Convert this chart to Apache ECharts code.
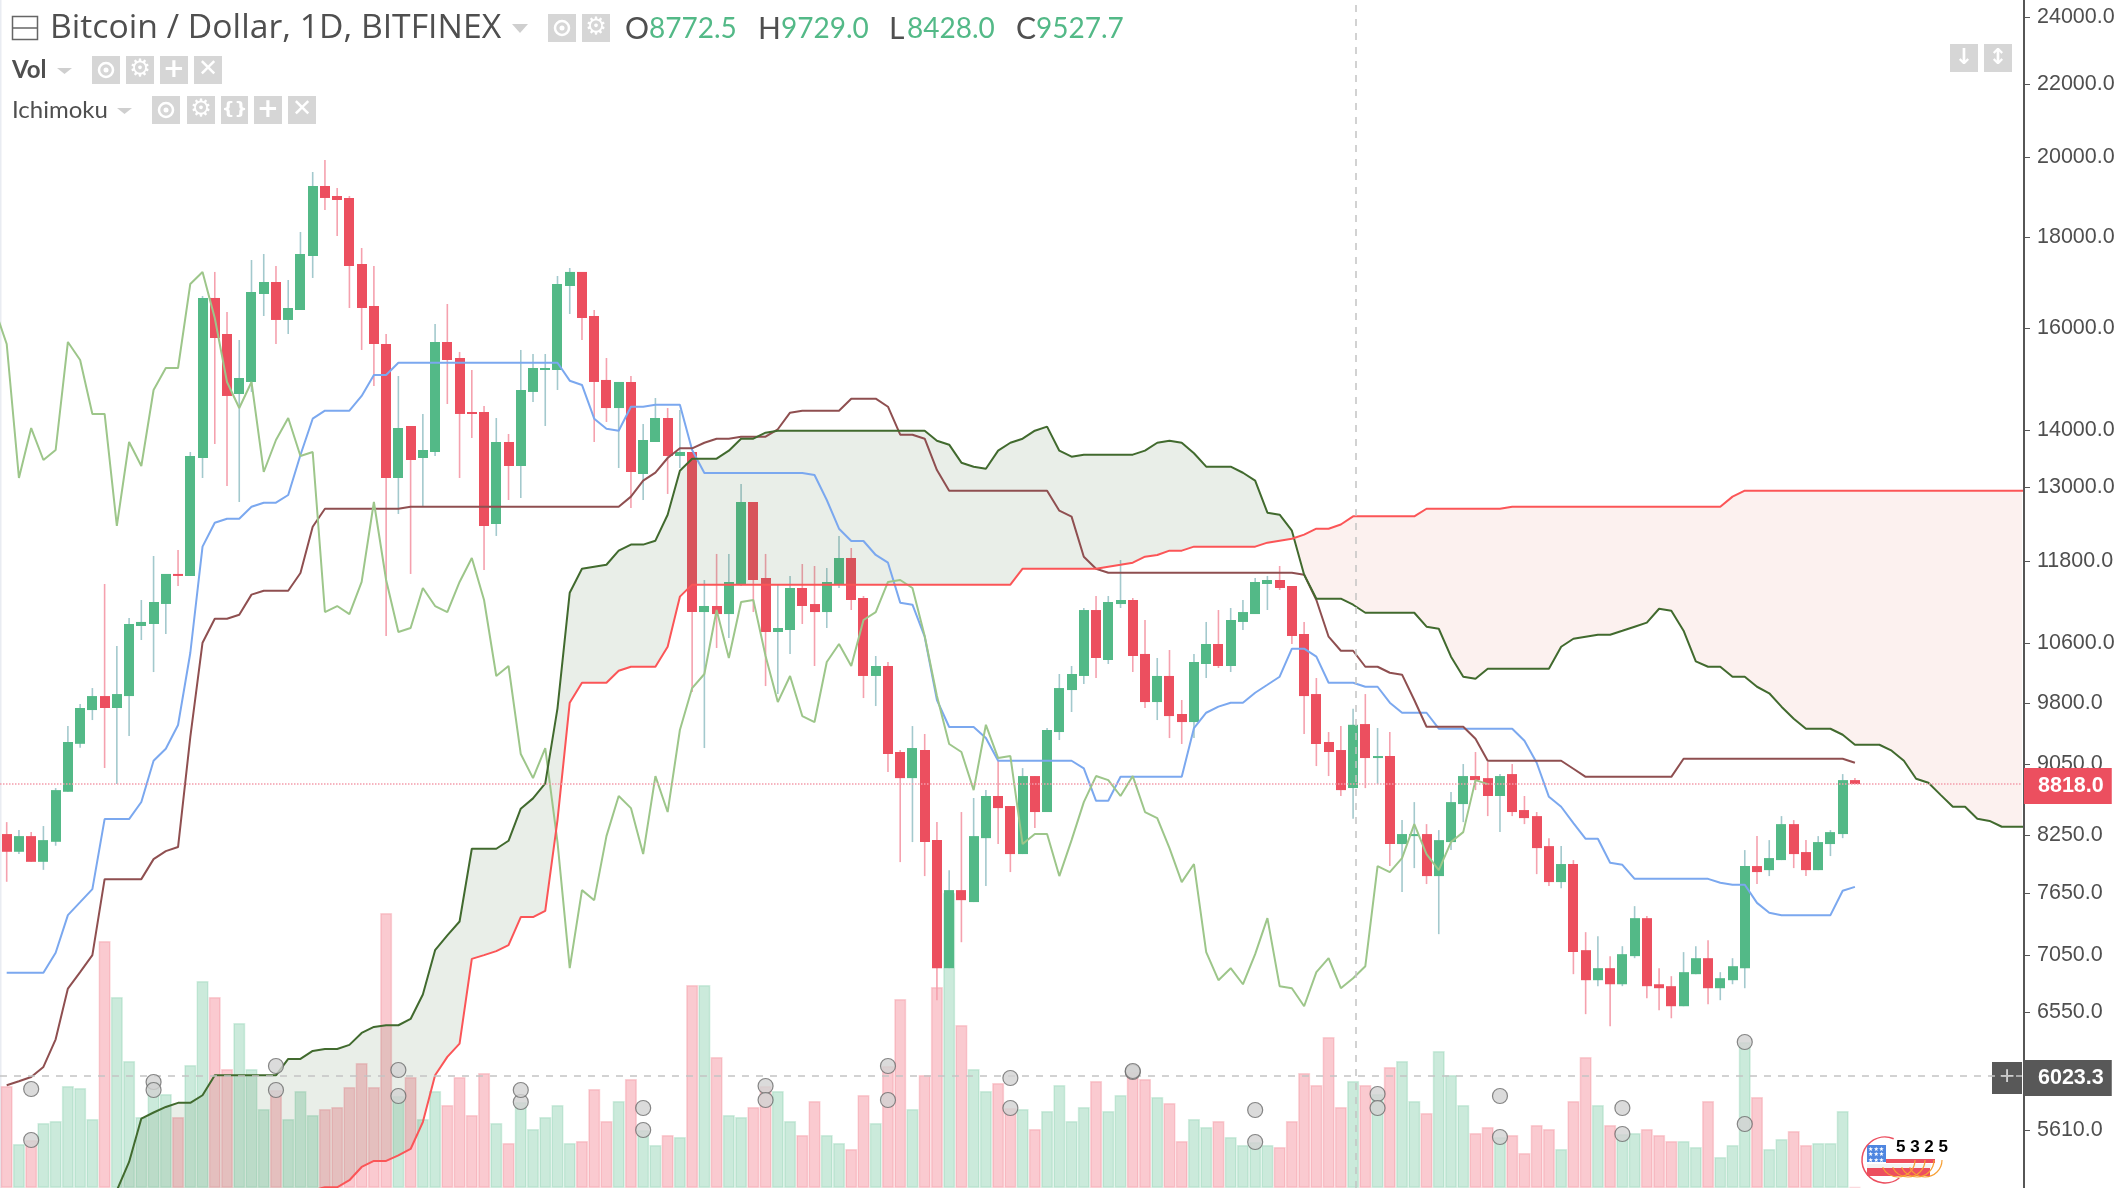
<!DOCTYPE html>
<html>
<head>
<meta charset="utf-8">
<title>Bitcoin / Dollar, 1D, BITFINEX</title>
<style>
  html, body { margin: 0; padding: 0; background: #fff; }
  #main { width: 2124px; height: 1188px; }
</style>
<script src="https://cdn.jsdelivr.net/npm/echarts@6/dist/echarts.min.js"></script>
</head>
<body>
<div id="main"></div>
<script>
// daily candles, one row per bar: open, close, low, high
var ohlc = [
  [8261,8072,7762,8391],[8072,8239,8048,8304],[8239,7967,7967,8282],[7967,8196,7884,8348],[8178,8749,8136,8772],
  [8730,9316,8730,9513],[9294,9739,9247,9790],[9713,9892,9587,9996],[9892,9739,9005,11451],[9739,9918,8818,10560],
  [9892,10868,9389,10954],[10840,10897,10643,11214],[10868,11185,10207,11877],[11156,11602,10727,11602],[11602,11572,11421,11971],
  [11572,13534,11572,13605],[13498,16635,13150,16678],[16635,15788,13747,17210],[15871,14637,13014,16334],[14675,14985,12745,15747],
  [14907,16765,14714,17480],[16721,16986,16248,17618],[16986,16164,15665,17344],[16164,16419,15871,17030],[16376,17618,16376,18132],
  [17572,19254,17075,19609],[19254,18955,18660,19918],[19004,18905,18037,19203],[18955,17344,16419,19004],[17389,16419,15543,17756],
  [16462,15665,14829,17344],[15665,13150,10699,15871],[13150,14037,12547,15024],[14074,13463,11602,14074],[13498,13640,12679,14297],
  [13605,15706,13534,16080],[15706,15341,14484,16505],[15381,14297,13150,15503],[14334,14297,13855,15142],[14334,12352,11662,14446],
  [12384,13783,12192,14222],[13783,13358,12778,13928],[13358,14752,12811,15543],[14714,15181,14522,15461],[15142,15181,14074,15461],
  [15142,16942,14752,17119],[16897,17210,16291,17299],[17210,16206,15747,17210],[16248,14907,13783,16376],[14946,14408,14148,15381],
  [14408,14907,13323,14907],[14907,13254,12645,15024],[13219,13819,12778,14111],[13783,14222,13783,14598],[14222,13534,12879,14408],
  [13534,13605,13323,14371],[13605,11039,9944,13605],[11039,11126,9243,11511],[11126,11010,10533,11909],[11010,11481,10671,11909],
  [11451,12745,11421,13048],[12745,11511,11039,12745],[11541,10755,10022,11909],[10755,10811,9918,11451],[10783,11391,10451,11572],
  [11391,11126,10868,11754],[11155,11039,10288,11723],[11039,11481,10811,11692],[11451,11846,11391,12192],[11846,11214,11068,12002],
  [11243,10155,9866,11273],[10155,10288,9764,10423],[10288,9171,8957,10342],[9195,8887,7964,9219],[8887,9243,8175,9512],
  [9219,8175,7820,9414],[8196,6934,6650,8391],[6934,7678,6934,7881],[7678,7578,7173,8502],[7559,8239,7559,8659],
  [8217,8682,7719,8749],[8682,8546,8154,9099],[8569,8048,7861,8569],[8048,8911,8048,9004],[8911,8502,8326,8911],
  [8502,9463,8502,9488],[9438,9996,9340,10181],[9970,10181,9688,10288],[10155,11068,10048,11097],[11068,10396,10128,11273],
  [10369,11185,10315,11273],[11155,11214,11097,11815],[11214,10423,10208,11243],[10451,9815,9738,10925],[9815,10155,9587,10396],
  [10155,9637,9364,10505],[9663,9562,9292,9841],[9562,10342,9364,10451],[10315,10588,10128,10897],[10588,10288,10261,11068],
  [10288,10925,10208,11097],[10897,11039,10783,11214],[11010,11481,11010,11541],[11451,11511,11068,11572],[11511,11391,11361,11723],
  [11421,10699,10588,11421],[10727,9892,9414,10897],[9918,9292,9028,10128],[9316,9195,8911,9438],[9219,8749,8682,9512],
  [8772.5,9527.7,8428,9729],[9537,9123,8772,9918],[9123,9147,8818,9488],[9147,8154,7923,9438],[8154,8261,7658,8413],
  [8239,8261,7902,8613],[8261,7820,7739,8369],[7820,8196,7249,8304],[8175,8613,8090,8726],[8591,8911,8391,9052],
  [8911,8864,8749,9195],[8887,8682,8457,9075],[8682,8911,8282,8934],[8934,8502,8457,9052],[8524,8435,8369,8682],
  [8457,8111,7840,8502],[8132,7759,7719,8217],[7759,7944,7698,8132],[7944,7081,6880,7985],[7099,6826,6530,7268],
  [6826,6934,6773,7230],[6934,6790,6428,7044],[6790,7062,6773,7136],[7044,7402,7025,7519],[7402,6773,6667,7422],
  [6790,6755,6564,6934],[6773,6598,6495,6862],[6598,6898,6598,7081],[6880,7025,6880,7136],[7025,6755,6615,7192],
  [6755,6844,6650,6898],[6826,6952,6790,7025],[6934,7923,6755,8090],[7923,7861,7739,8239],[7881,8006,7820,8196],
  [7985,8369,7985,8457],[8369,8048,7902,8413],[8069,7881,7820,8196],[7881,8175,7881,8239],[8154,8282,8027,8304],
  [8261,8864,8217,8934],[8864,8818,8818,8887]
];

// the volume scale is not printed on the chart, so these are relative units
var volume = [
  102,44,48,65,67,102,100,69,247,191,
  127,71,106,94,71,123,207,191,119,165,
  119,79,98,69,97,73,79,81,101,125,
  101,275,92,111,69,97,83,111,73,115,
  65,45,86,59,71,83,45,47,99,67,
  87,109,58,43,53,51,203,203,131,73,
  71,81,102,97,67,53,87,53,45,39,
  93,65,122,189,79,113,201,295,163,119,
  97,105,80,79,59,77,103,67,81,107,
  77,93,116,109,91,85,47,69,61,67,
  51,43,46,43,41,67,115,103,151,81,
  107,103,94,121,127,87,75,137,113,83,
  55,61,51,53,35,63,59,39,87,131,
  83,63,54,55,59,53,47,47,41,87,
  31,43,146,91,39,49,57,43,45,45,
  77,1
];
var volumeMa = [
  106,101,99,99,99,101,101,97,107,109,
  111,101,98,99,97,97,101,109,111,117,
  117,119,122,123,123,123,121,123,115,111,
  111,121,118,121,121,119,113,109,107,105,
  101,101,98,99,97,99,97,95,95,91,
  91,83,80,77,77,75,81,85,87,85,
  87,87,88,91,91,89,91,91,89,87,
  87,85,88,95,97,101,101,105,107,109,
  111,111,110,109,109,109,111,111,113,117,
  115,117,117,113,113,113,105,93,87,85,
  83,81,78,77,75,75,75,79,81,79,
  81,81,80,81,83,84,87,89,91,91,
  92,93,92,93,93,93,89,87,83,85,
  85,83,80,77,75,73,71,67,63,63,
  63,61,64,67,67,67,67,67,65,61,
  61,57
];
// grey circles sit on every tenth volume bar and on its average
var markedBars = [2,12,22,32,42,52,62,72,82,92,102,112,122,132,142];

var tenkan = [
  6892,6892,6892,6892,7075,7431,7558,7688,8424,8424,
  8424,8614,9091,9235,9525,10464,12023,12405,12470,12470,
  12667,12733,12733,12862,13551,14209,14358,14358,14358,14637,
  15044,15044,15287,15287,15287,15287,15287,15287,15287,15287,
  15287,15287,15287,15287,15287,15287,14932,14849,14209,14025,
  13988,14433,14433,14471,14471,14471,13640,13236,13236,13236,
  13236,13236,13236,13236,13236,13236,13202,12778,12308,12112,
  12112,11893,11774,11175,11145,10689,9841,9500,9500,9500,
  9365,9091,9091,9091,9091,9091,9091,9091,9001,8628,
  8628,8902,8902,8902,8902,8902,8902,9488,9679,9756,
  9807,9807,9935,10039,10145,10523,10523,10414,10065,10065,
  10065,10013,10013,9807,9679,9679,9679,9479,9479,9479,
  9479,9479,9479,9479,9331,9067,8673,8561,8380,8210,
  8210,7957,7936,7792,7792,7792,7792,7792,7792,7792,
  7752,7732,7732,7551,7454,7431,7431,7431,7431,7431,
  7671,7711
];
var kijun = [
  5951,5982,6016,6095,6319,6752,6898,7053,7789,7789,
  7789,7789,7995,8079,8122,9377,10606,10943,10943,11001,
  11293,11351,11351,11351,11617,12340,12633,12633,12633,12633,
  12633,12633,12633,12667,12667,12667,12667,12667,12667,12667,
  12667,12667,12667,12667,12667,12667,12667,12667,12667,12667,
  12667,12834,13104,13242,13498,13670,13670,13770,13843,13843,
  13879,13879,13879,14014,14321,14358,14358,14358,14358,14585,
  14585,14585,14433,13915,13915,13843,13288,12934,12934,12934,
  12934,12934,12934,12934,12934,12934,12601,12503,11866,11682,
  11621,11621,11621,11621,11621,11621,11621,11621,11621,11621,
  11621,11621,11621,11621,11621,11621,11591,11214,10689,10495,
  10495,10278,10278,10198,10172,9841,9504,9504,9504,9504,
  9356,9091,9091,9091,9091,9091,9091,9091,8996,8902,
  8902,8902,8902,8902,8902,8902,8902,9115,9115,9115,
  9115,9115,9115,9115,9115,9115,9115,9115,9115,9115,
  9115,9067
];
// lagging line, starts one bar left of the picture
var chikouStart = -1;
var chikou = [
  16419,15665,13150,14037,13463,13640,15706,15341,14297,14297,12352,
  13783,13358,14752,15181,15181,16942,17210,16206,14907,14408,
  14907,13254,13819,14222,13534,13605,11039,11126,11010,11481,
  12745,11511,10755,10811,11391,11126,11039,11481,11846,11214,
  10155,10288,9171,8887,9243,8175,6934,7678,7578,8239,
  8682,8546,8048,8911,8502,9463,9996,10181,11068,10396,
  11185,11214,10423,9815,10155,9637,9562,10342,10588,10288,
  10925,11039,11481,11511,11391,10699,9892,9292,9195,8749,
  9527.7,9123,9147,8154,8261,8261,7820,8196,8613,8911,
  8864,8682,8911,8502,8435,8111,7759,7944,7081,6826,
  6934,6790,7062,7402,6773,6755,6598,6898,7025,6755,
  6844,6952,7923,7861,8006,8369,8048,7881,8175,8282,
  8864,8818
];
// both cloud lines start at bar 9, values below 5204 are under the picture
var cloudStart = 9;
var spanA = [
  5188,
  5384,5698,5743,5785,5816,5816,5874,6029,6029,6029,
  6029,6029,6029,6159,6159,6224,6240,6240,6273,6372,
  6422,6436,6436,6489,6700,7099,7237,7370,8104,8104,
  8104,8189,8539,8655,8826,9735,11321,11682,11712,11742,
  11960,12055,12055,12117,12535,13276,13486,13486,13486,13628,
  13843,13843,13952,13988,13988,13988,13988,13988,13988,13988,
  13988,13988,13988,13988,13988,13988,13806,13735,13416,13346,
  13311,13628,13770,13843,13988,14062,13628,13522,13557,13557,
  13557,13557,13557,13628,13770,13806,13770,13582,13346,13346,
  13346,13241,13104,12568,12535,12276,11591,11233,11233,11233,
  11145,11029,11029,11029,11029,11029,10830,10801,10414,10145,
  10118,10251,10251,10251,10251,10251,10251,10550,10661,10689,
  10717,10717,10773,10830,10887,11087,11058,10773,10351,10278,
  10278,10145,10145,10013,9928,9756,9603,9479,9479,9479,
  9405,9283,9283,9283,9211,9091,8879,8833,8695,8561,
  8561,8427,8404,8340,8340,8340
];
var spanB = [
  5000,
  5000,5000,5000,5000,5000,5000,5000,5000,5000,5000,
  5000,5000,5000,5000,5000,5188,5209,5209,5257,5349,
  5391,5391,5431,5476,5672,6029,6176,6284,7019,7053,
  7090,7145,7412,7412,7473,8413,9807,10065,10065,10065,
  10225,10278,10278,10278,10550,11263,11441,11441,11441,11441,
  11441,11441,11441,11441,11441,11441,11441,11441,11441,11441,
  11441,11441,11441,11441,11441,11441,11441,11441,11441,11441,
  11441,11441,11441,11682,11682,11682,11682,11682,11682,11682,
  11712,11742,11774,11866,11893,11960,11960,12023,12023,12023,
  12023,12023,12023,12086,12117,12148,12213,12308,12308,12375,
  12508,12508,12508,12508,12508,12508,12633,12633,12633,12633,
  12633,12633,12633,12667,12667,12667,12667,12667,12667,12667,
  12667,12667,12667,12667,12667,12667,12667,12667,12667,12667,
  12667,12834,12934,12934,12934,12934,12934,12934,12934,12934,
  12934,12934,12934,12934,12934,12934,12934,12934,12934,12934,
  12934,12934,12934,12934,12934,12934
];

var tickValues = [24000,22000,20000,18000,16000,14000,13000,11800,10600,9800,9050,8250,7650,7050,6550,5610];
var lastPrice = 8818;
var crossPrice = 6023.3;
var crossBar = 110.2;
var hoverOhlc = [['O','8772.5',625,649],['H','9729.0',758,781],['L','8428.0',889,907],['C','9527.7',1016,1036]];

var UP = '#53b987', DOWN = '#ec4f5f';
var UP_WICK = '#a3c9cd', DOWN_WICK = '#f5a1ae';
var AXIS_FONT = '"Liberation Sans", Arial, sans-serif';
var TITLE_FONT = '"Open Sans", Lato, sans-serif';
var VALUE_FONT = 'Lato, "Open Sans", sans-serif';

function indexed(list, start) {
  return list.map(function (v, i) { return [i + start, v]; });
}

function lineSeries(name, list, start, color, width, z) {
  return {
    name: name, type: 'line', data: indexed(list, start), showSymbol: false,
    lineStyle: { color: color, width: width }, z: z, silent: true, animation: false
  };
}

function renderCandle(params, api) {
  var o = api.value(1), c = api.value(2);
  var x = api.coord([api.value(0), o])[0];
  var top = api.coord([0, Math.max(o, c)])[1];
  var bottom = api.coord([0, Math.min(o, c)])[1];
  var low = api.coord([0, api.value(3)])[1];
  var high = api.coord([0, api.value(4)])[1];
  return {
    type: 'group',
    children: [
      { type: 'line', shape: { x1: x, y1: high, x2: x, y2: low },
        style: { stroke: c >= o ? UP_WICK : DOWN_WICK, lineWidth: 1.6 } },
      { type: 'rect', shape: { x: Math.round(x - 5), y: top, width: 10, height: Math.max(bottom - top, 2) },
        style: { fill: c >= o ? UP : DOWN } }
    ]
  };
}

// the cloud is one polygon per stretch where the same line stays on top
function renderCloud(params, api) {
  var parts = [], upper = [], lower = [], prevSign = 0, prevA, prevB;
  function close(sign) {
    parts.push({
      type: 'polygon', shape: { points: upper.concat(lower.slice().reverse()) },
      style: { fill: sign > 0 ? 'rgba(72,116,62,0.12)' : 'rgba(226,120,100,0.10)' }
    });
  }
  spanA.forEach(function (a, k) {
    var i = k + cloudStart;
    var pa = api.coord([i, a]), pb = api.coord([i, spanB[k]]);
    var sign = a >= spanB[k] ? 1 : -1;
    if (prevSign && sign !== prevSign) {
      var d0 = prevA[1] - prevB[1], d1 = pa[1] - pb[1], t = d0 / (d0 - d1);
      var cross = [prevA[0] + (pa[0] - prevA[0]) * t, prevA[1] + (pa[1] - prevA[1]) * t];
      upper.push(cross);
      close(prevSign);
      upper = [cross];
      lower = [];
    }
    upper.push(pa);
    lower.push(pb);
    prevSign = sign; prevA = pa; prevB = pb;
  });
  close(prevSign);
  return { type: 'group', children: parts };
}

var volumeBars = volume.map(function (v, i) {
  var up = ohlc[i][1] >= ohlc[i][0];
  return {
    value: [i, v],
    itemStyle: {
      color: up ? 'rgba(83,185,135,0.30)' : 'rgba(238,80,100,0.30)',
      borderColor: up ? 'rgba(83,185,135,0.22)' : 'rgba(238,80,100,0.22)',
      borderWidth: 1.5
    }
  };
});
var markerPoints = [];
markedBars.forEach(function (i) {
  markerPoints.push([i, volume[i]]);
  markerPoints.push([i, volumeMa[i]]);
});

// header and decoration, these are page furniture and not chart data
var furniture = [];
function addRect(x, y, w, h, fill) {
  furniture.push({ type: 'rect', shape: { x: x, y: y, width: w, height: h }, style: { fill: fill } });
}
function addText(text, x, y, size, color, weight, font) {
  furniture.push({ type: 'text', x: x, y: y, style: {
    text: text, fontSize: size, fill: color, fontWeight: weight || 'normal',
    fontFamily: font || TITLE_FONT, textVerticalAlign: 'middle', textAlign: 'left'
  } });
}
function addTriangle(x, y, w, h) {
  furniture.push({ type: 'polygon', shape: { points: [[x, y], [x + w, y], [x + w / 2, y + h]] }, style: { fill: '#cfcfcf' } });
}
function eyeButton(x, y, w, h) {
  addRect(x, y, w, h, '#d6d6d6');
  furniture.push({ type: 'circle', shape: { cx: x + w / 2, cy: y + h / 2, r: 7 }, style: { fill: 'none', stroke: '#fff', lineWidth: 2.5 } });
  furniture.push({ type: 'circle', shape: { cx: x + w / 2, cy: y + h / 2, r: 2.5 }, style: { fill: '#fff' } });
}
function glyphButton(x, y, w, h, glyph, size) {
  addRect(x, y, w, h, '#d6d6d6');
  furniture.push({ type: 'text', x: x + w / 2, y: y + h / 2, style: {
    text: glyph, fontSize: size, fill: '#fff', fontWeight: 'bold',
    fontFamily: '"DejaVu Sans", sans-serif', textAlign: 'center', textVerticalAlign: 'middle'
  } });
}

addRect(0, 0, 1.5, 1188, '#e9ecf2');
furniture.push({ type: 'rect', shape: { x: 12.5, y: 16.5, width: 25, height: 23 }, style: { fill: 'none', stroke: '#666', lineWidth: 1.5 } });
furniture.push({ type: 'line', shape: { x1: 12.5, y1: 28, x2: 37.5, y2: 28 }, style: { stroke: '#666', lineWidth: 1.5 } });
addText('Bitcoin / Dollar, 1D, BITFINEX', 50, 29, 32, '#4f4f4f');
furniture[furniture.length - 1].scaleX = 1.054;
addTriangle(512, 24, 16, 9);
eyeButton(548, 14, 28, 28);
glyphButton(582, 14, 28, 28, '\u2699', 24);
hoverOhlc.forEach(function (h) {
  addText(h[0], h[2], 29, 30, '#4f4f4f', 'normal', VALUE_FONT);
  addText(h[1], h[3], 29, 28, UP, 'normal', VALUE_FONT);
});

addText('Vol', 12, 70, 24, '#4f4f4f', 'bold', VALUE_FONT);
addTriangle(57, 68, 15, 6);
eyeButton(92, 56, 28, 28);
glyphButton(126, 56, 28, 28, '\u2699', 24);
glyphButton(160, 56, 28, 28, '+', 26);
glyphButton(194, 56, 28, 28, '\u2715', 24);

addText('Ichimoku', 12, 110, 24, '#4f4f4f', 'normal', VALUE_FONT);
addTriangle(117, 108, 15, 6);
eyeButton(152, 96, 28, 28);
glyphButton(187, 96, 28, 28, '\u2699', 24);
glyphButton(221, 96, 27, 28, '{}', 18);
glyphButton(254, 96, 28, 28, '+', 26);
glyphButton(288, 96, 28, 28, '\u2715', 24);

glyphButton(1950, 44, 28, 28, '\u2193', 22);
glyphButton(1984, 44, 28, 28, '\u2195', 22);

addRect(1992, 1062, 30, 32, '#585858');
furniture.push({ type: 'text', x: 2007, y: 1077, style: {
  text: '+', fontSize: 26, fill: '#d0d0d0', fontFamily: AXIS_FONT, textAlign: 'center', textVerticalAlign: 'middle'
} });

// small flag badge in the bottom right corner
addRect(1886, 1159, 49, 4, '#ec4f5f');
addRect(1867, 1164, 64, 4, '#f4f4f4');
addRect(1867, 1168, 63, 8, '#ec4f5f');
addRect(1867, 1145, 19, 17, '#4f86e0');
['\u2605\u2605\u2605', '\u2605\u2605\u2605', '\u2605\u2605\u2605'].forEach(function (row, k) {
  furniture.push({ type: 'text', x: 1868, y: 1149 + k * 5.5, style: {
    text: row, fontSize: 6, fill: '#fff', fontFamily: '"DejaVu Sans", sans-serif', textVerticalAlign: 'middle'
  } });
});
furniture.push({ type: 'arc', shape: { cx: 1885, cy: 1160, r: 23, startAngle: 0.9, endAngle: 5.1 }, style: { fill: 'none', stroke: '#ec4f5f', lineWidth: 1.5 } });
[1898, 1908, 1917, 1925].forEach(function (cx) {
  furniture.push({ type: 'arc', shape: { cx: cx, cy: 1160, r: 17, startAngle: 0, endAngle: 2.7 }, style: { fill: 'none', stroke: '#f7a035', lineWidth: 1.2 } });
});
addText('5 3 2 5', 1896, 1147, 17, '#000', 'bold', AXIS_FONT);

var option = {
  backgroundColor: '#fff',
  animation: false,
  grid: { left: 0, top: 0, width: 2022, height: 1188 },
  xAxis: { type: 'value', min: -0.547, max: 164.65, show: false },
  yAxis: [
    {
      type: 'log', min: 5204, max: 24546, position: 'right', offset: 2,
      splitLine: { show: false },
      axisLine: { show: true, onZero: false, lineStyle: { color: '#565656', width: 2 } },
      axisTick: { show: true, customValues: tickValues, length: 6, lineStyle: { color: '#565656', width: 1 } },
      axisLabel: {
        show: true, customValues: tickValues, margin: 13, padding: [7, 0, 0, 0], color: '#4f4f4f', fontSize: 21.5, fontFamily: AXIS_FONT,
        formatter: function (v) { return Number(v).toFixed(1); }
      }
    },
    { type: 'value', min: 0, max: 1188, show: false }
  ],
  series: [
    { name: 'Vol', type: 'bar', yAxisIndex: 1, data: volumeBars, barWidth: 12, z: 1, silent: true, animation: false },
    { name: 'Bitcoin', type: 'custom', renderItem: renderCandle, z: 2, clip: true, silent: true, animation: false,
      data: ohlc.map(function (r, i) { return [i, r[0], r[1], r[2], r[3]]; }),
      encode: { x: 0, y: [1, 2, 3, 4] } },
    { name: 'Cloud', type: 'custom', renderItem: renderCloud, z: 3, clip: true, silent: true, animation: false,
      data: [[0, 10000]], encode: { x: 0, y: 1 } },
    lineSeries('Vol MA', volumeMa, 0, '#f9a860', 1.2, 5),
    lineSeries('Conversion', tenkan, 0, '#7ba8ef', 2, 4),
    lineSeries('Base', kijun, 0, '#8f4f50', 2, 4),
    lineSeries('Lagging', chikou, chikouStart, '#9dc68a', 2, 4),
    lineSeries('Lead 1', spanA, cloudStart, '#416a2e', 2, 4),
    lineSeries('Lead 2', spanB, cloudStart, '#fb5557', 2, 4),
    {
      name: 'Marks', type: 'scatter', yAxisIndex: 1, data: markerPoints, symbolSize: 15, z: 6, silent: true, animation: false,
      itemStyle: { color: '#d2d2d2', borderColor: '#6a6a6a', borderWidth: 1.2 }
    },
    {
      name: 'Guides', type: 'line', data: [[0, lastPrice]], showSymbol: false, z: 7, silent: true, animation: false,
      lineStyle: { width: 0 },
      markLine: {
        silent: true, symbol: 'none', animation: false,
        data: [
          { yAxis: lastPrice, lineStyle: { color: '#f49cab', type: 'dotted', width: 1.5 },
            label: { position: 'end', distance: 2, offset: [0, 2], formatter: '8818.0', color: '#fff', fontSize: 21.5, fontWeight: 'bold', fontFamily: AXIS_FONT,
              backgroundColor: DOWN, padding: [8, 8, 6, 14] } },
          { yAxis: crossPrice, lineStyle: { color: '#c4c4c4', type: [7, 7], width: 1.5 },
            label: { position: 'end', distance: 2, offset: [0, 2], formatter: '6023.3', color: '#fff', fontSize: 21.5, fontWeight: 'bold', fontFamily: AXIS_FONT,
              backgroundColor: '#585858', padding: [8, 8, 6, 14] } },
          { xAxis: crossBar, lineStyle: { color: '#c4c4c4', type: [7, 7], width: 1.5 }, label: { show: false } }
        ]
      }
    }
  ],
  graphic: { elements: [{ type: 'group', z: 100, silent: true, children: furniture }] }
};

var myChart = echarts.init(document.getElementById('main'), null, { renderer: 'canvas' });
myChart.setOption(option);
window.addEventListener('resize', function () { myChart.resize(); });
</script>
</body>
</html>
